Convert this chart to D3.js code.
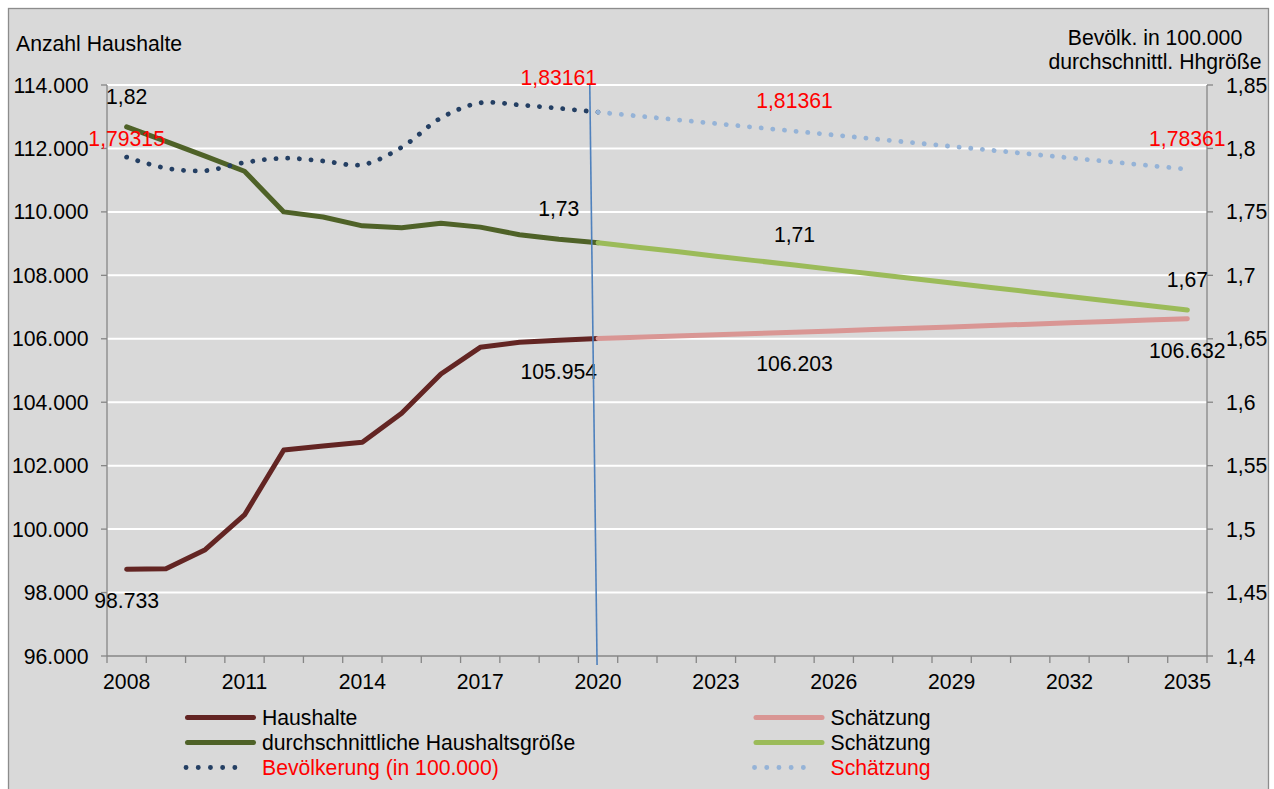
<!DOCTYPE html>
<html>
<head>
<meta charset="utf-8">
<script src="https://cdn.jsdelivr.net/npm/d3@7"></script>
<style>
  body { margin: 0; background: #fff; }
  svg text { font-family: "Liberation Sans", Arial, sans-serif; font-size: 21.2px; }
</style>
</head>
<body>
<div id="chart"></div>
<script>
// categories
const years = d3.range(2008, 2036);
const histYears = d3.range(2008, 2021);
const estYears = d3.range(2020, 2036);

// Anzahl Haushalte (left axis)
const haushalte = [98733, 98750, 99350, 100445, 102494, 102620, 102740, 103650, 104890, 105730, 105890, 105954, 106010];
const haushalteSchaetzung = [106010, 106049, 106087, 106126, 106164, 106203, 106246, 106289, 106332, 106375, 106418, 106461, 106504, 106547, 106590, 106632];

// durchschnittliche Haushaltsgröße (right axis)
const hhGroesse = [1.817, 1.8055, 1.794, 1.782, 1.750, 1.746, 1.739, 1.7375, 1.741, 1.738, 1.732, 1.7284, 1.7257];
const hhGroesseSchaetzung = [1.7257, 1.7222, 1.7187, 1.7151, 1.7116, 1.7081, 1.7045, 1.7010, 1.6975, 1.6939, 1.6904, 1.6869, 1.6834, 1.6798, 1.6763, 1.6727];

// Bevölkerung in 100.000 (right axis)
const bevoelkerung = [1.79315, 1.7845, 1.7825, 1.7889, 1.7923, 1.7901, 1.7872, 1.8009, 1.824, 1.8359, 1.8343, 1.83161, 1.82861];
const bevoelkerungSchaetzung = [1.82861, 1.82561, 1.82261, 1.81961, 1.81661, 1.81361, 1.81061, 1.80761, 1.80461, 1.80161, 1.79861, 1.79561, 1.79261, 1.78961, 1.78661, 1.78361];

// tick labels
const leftTicks = [96000, 98000, 100000, 102000, 104000, 106000, 108000, 110000, 112000, 114000];
const rightTicks = [1.4, 1.45, 1.5, 1.55, 1.6, 1.65, 1.7, 1.75, 1.8, 1.85];
const xLabelYears = [2008, 2011, 2014, 2017, 2020, 2023, 2026, 2029, 2032, 2035];

// data labels: series key, year, text, above/below
const dataLabels = [
  { s: "hh", year: 2008, text: "98.733", pos: "below" },
  { s: "hh", year: 2019, text: "105.954", pos: "below" },
  { s: "hhS", year: 2025, text: "106.203", pos: "below" },
  { s: "hhS", year: 2035, text: "106.632", pos: "below" },
  { s: "gr", year: 2008, text: "1,82", pos: "above" },
  { s: "gr", year: 2019, text: "1,73", pos: "above" },
  { s: "grS", year: 2025, text: "1,71", pos: "above" },
  { s: "grS", year: 2035, text: "1,67", pos: "above" },
  { s: "bev", year: 2008, text: "1,79315", pos: "above2", red: true },
  { s: "bev", year: 2019, text: "1,83161", pos: "above", red: true },
  { s: "bevS", year: 2025, text: "1,81361", pos: "above", red: true },
  { s: "bevS", year: 2035, text: "1,78361", pos: "above", red: true }
];

const legendItems = [
  { label: "Haushalte", key: "hh", col: 0, row: 0 },
  { label: "durchschnittliche Haushaltsgröße", key: "gr", col: 0, row: 1 },
  { label: "Bevölkerung (in 100.000)", key: "bev", col: 0, row: 2, red: true },
  { label: "Schätzung", key: "hhS", col: 1, row: 0 },
  { label: "Schätzung", key: "grS", col: 1, row: 1 },
  { label: "Schätzung", key: "bevS", col: 1, row: 2, red: true }
];

// layout
const W = 1274, H = 789;
const plotLeft = 107, plotRight = 1207, plotTop = 85, plotBottom = 656;
const axisColor = "#868686";
const markerYear = 2020;

const styles = {
  hh:   { color: "#632523", axis: "left",  dotted: false },
  hhS:  { color: "#d99694", axis: "left",  dotted: false },
  gr:   { color: "#4f6228", axis: "right", dotted: false },
  grS:  { color: "#9bbb59", axis: "right", dotted: false },
  bev:  { color: "#243f63", axis: "right", dotted: true },
  bevS: { color: "#95b3d7", axis: "right", dotted: true }
};

const series = {
  hh:   histYears.map((y, i) => ({ year: y, v: haushalte[i] })),
  hhS:  estYears.map((y, i) => ({ year: y, v: haushalteSchaetzung[i] })),
  gr:   histYears.map((y, i) => ({ year: y, v: hhGroesse[i] })),
  grS:  estYears.map((y, i) => ({ year: y, v: hhGroesseSchaetzung[i] })),
  bev:  histYears.map((y, i) => ({ year: y, v: bevoelkerung[i] })),
  bevS: estYears.map((y, i) => ({ year: y, v: bevoelkerungSchaetzung[i] }))
};

const de = d3.formatLocale({ decimal: ",", thousands: ".", grouping: [3], currency: ["", " €"] });

const x = d3.scaleBand().domain(years).range([plotLeft, plotRight]).paddingInner(0).paddingOuter(0);
const xc = d => x(d) + x.bandwidth() / 2;
const yL = d3.scaleLinear().domain([96000, 114000]).range([plotBottom, plotTop]);
const yR = d3.scaleLinear().domain([1.4, 1.85]).range([plotBottom, plotTop]);

const svg = d3.select("#chart").append("svg")
  .attr("width", W)
  .attr("height", H)
  .attr("viewBox", "0 0 " + W + " " + H);

// chart background and border
svg.append("rect")
  .attr("x", 8.5).attr("y", 8.5)
  .attr("width", 1260).attr("height", 800)
  .attr("fill", "#d9d9d9")
  .attr("stroke", "#8c8c8c")
  .attr("stroke-width", 1.3);

// gridlines
svg.selectAll(".grid").data(leftTicks.slice(1)).enter().append("line")
  .attr("x1", plotLeft).attr("x2", plotRight)
  .attr("y1", d => yL(d)).attr("y2", d => yL(d))
  .attr("stroke", "#fff")
  .attr("stroke-width", 2);

// left axis
svg.append("line")
  .attr("x1", plotLeft).attr("x2", plotLeft).attr("y1", plotTop).attr("y2", plotBottom)
  .attr("stroke", axisColor).attr("stroke-width", 1.3);
svg.selectAll(".ltick").data(leftTicks).enter().append("line")
  .attr("x1", plotLeft - 6).attr("x2", plotLeft)
  .attr("y1", d => yL(d)).attr("y2", d => yL(d))
  .attr("stroke", axisColor).attr("stroke-width", 1.3);
svg.selectAll(".llabel").data(leftTicks).enter().append("text")
  .attr("x", 88.5)
  .attr("y", d => yL(d) + 7.5)
  .attr("text-anchor", "end")
  .text(d => de.format(",.0f")(d));

// right axis
svg.append("line")
  .attr("x1", plotRight).attr("x2", plotRight).attr("y1", plotTop).attr("y2", plotBottom)
  .attr("stroke", axisColor).attr("stroke-width", 1.3);
svg.selectAll(".rtick").data(rightTicks).enter().append("line")
  .attr("x1", plotRight).attr("x2", plotRight + 6)
  .attr("y1", d => yR(d)).attr("y2", d => yR(d))
  .attr("stroke", axisColor).attr("stroke-width", 1.3);
svg.selectAll(".rlabel").data(rightTicks).enter().append("text")
  .attr("x", 1226)
  .attr("y", d => yR(d) + 7.5)
  .text(d => de.format(".2~f")(d));

// bottom axis
svg.append("line")
  .attr("x1", plotLeft).attr("x2", plotRight).attr("y1", plotBottom).attr("y2", plotBottom)
  .attr("stroke", axisColor).attr("stroke-width", 1.3);
svg.selectAll(".xtick").data(years.concat([null])).enter().append("line")
  .attr("x1", d => d === null ? plotRight : x(d))
  .attr("x2", d => d === null ? plotRight : x(d))
  .attr("y1", plotBottom).attr("y2", plotBottom + 7)
  .attr("stroke", axisColor).attr("stroke-width", 1.3);
svg.selectAll(".xlabel").data(xLabelYears).enter().append("text")
  .attr("x", d => xc(d))
  .attr("y", 688.5)
  .attr("text-anchor", "middle")
  .text(d => d);

// axis titles
svg.append("text").attr("x", 16).attr("y", 51).text("Anzahl Haushalte");
svg.append("text").attr("x", 1155).attr("y", 45).attr("text-anchor", "middle").text("Bevölk. in 100.000");
svg.append("text").attr("x", 1155).attr("y", 69).attr("text-anchor", "middle").text("durchschnittl. Hhgröße");

// lines
function yFor(key) { return styles[key].axis === "left" ? yL : yR; }
function drawSeries(key) {
  const st = styles[key];
  const ys = yFor(key);
  const line = d3.line()
    .x(d => xc(d.year))
    .y(d => ys(d.v))
    .curve(st.dotted ? d3.curveCatmullRom.alpha(0.5) : d3.curveLinear);
  const p = svg.append("path")
    .datum(series[key])
    .attr("d", line)
    .attr("fill", "none")
    .attr("stroke", st.color)
    .attr("stroke-linecap", "round")
    .attr("stroke-linejoin", "round");
  if (st.dotted) {
    p.attr("stroke-width", 4.8).attr("stroke-dasharray", "0.1 11.6");
  } else {
    p.attr("stroke-width", 5);
  }
}
["hh", "hhS", "gr", "grS", "bev", "bevS"].forEach(drawSeries);

// data labels
const offsets = { above: -30.5, above2: -19, below: 31.5 };
svg.selectAll(".dlabel").data(dataLabels).enter().append("text")
  .attr("x", d => xc(d.year))
  .attr("y", d => {
    const pt = series[d.s].find(p => p.year === d.year);
    return yFor(d.s)(pt.v) + offsets[d.pos] + 7.5;
  })
  .attr("text-anchor", "middle")
  .attr("fill", d => d.red ? "#ff0000" : "#000")
  .text(d => d.text);

// marker line at 2020
svg.append("line")
  .attr("x1", xc(markerYear) - 8.3).attr("y1", plotTop)
  .attr("x2", xc(markerYear) - 1).attr("y2", plotBottom + 9)
  .attr("stroke", "#4f81bd")
  .attr("stroke-width", 1.6);

// legend
const legX = [185, 753.5], legLen = 71, legTextGap = 6, legY0 = 717.5, legDy = 25;
legendItems.forEach(item => {
  const st = styles[item.key];
  const lx = legX[item.col], ly = legY0 + item.row * legDy;
  const l = svg.append("line")
    .attr("x1", lx).attr("x2", lx + legLen)
    .attr("y1", ly).attr("y2", ly)
    .attr("stroke", st.color)
    .attr("stroke-linecap", "round");
  if (st.dotted) {
    l.attr("x1", lx + 1).attr("x2", lx + 62).attr("stroke-width", 4.8).attr("stroke-dasharray", "0.1 12.1");
  } else {
    l.attr("x1", lx + 2.5).attr("x2", lx + legLen - 2.5).attr("stroke-width", 5);
  }
  svg.append("text")
    .attr("x", lx + legLen + legTextGap)
    .attr("y", ly + 7.5)
    .attr("fill", item.red ? "#ff0000" : "#000")
    .text(item.label);
});
</script>
</body>
</html>
